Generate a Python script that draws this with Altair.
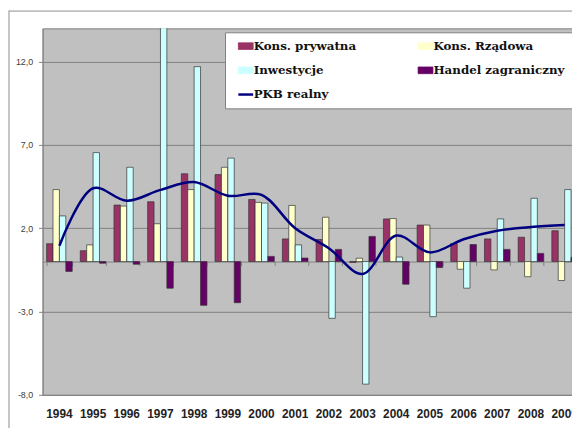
import altair as alt
import pandas as pd

# ---- data ----
years = [str(y) for y in range(1994, 2010)]
series_names = ["Kons. prywatna", "Kons. Rządowa", "Inwestycje", "Handel zagraniczny"]
line_name = "PKB realny"

kons_prywatna = [1.07, 0.65, 3.39, 3.59, 5.27, 5.22, 3.73, 1.36, 1.32, -0.05, 2.56, 2.19, 1.08, 1.36, 1.46, 1.85]
kons_rzadowa = [4.32, 1.00, 3.33, 2.27, 4.32, 5.66, 3.55, 3.37, 2.66, 0.20, 2.58, 2.19, -0.46, -0.50, -0.91, -1.14]
inwestycje = [2.74, 6.54, 5.66, 15.50, 11.70, 6.21, 3.51, 1.00, -3.41, -7.36, 0.27, -3.31, -1.60, 2.56, 3.80, 4.32]
handel = [-0.59, -0.10, -0.16, -1.60, -2.63, -2.47, 0.31, 0.21, 0.73, 1.51, -1.36, -0.36, 1.02, 0.73, 0.49, 0.25]
pkb = [0.95, 4.40, 3.65, 4.30, 4.77, 3.95, 4.00, 2.00, 0.80, -0.75, 1.56, 0.55, 1.34, 1.85, 2.07, 2.19]

series_colors = {
    "Kons. prywatna": "#993366",
    "Kons. Rządowa": "#FFFFCC",
    "Inwestycje": "#CCFFFF",
    "Handel zagraniczny": "#660066",
    "PKB realny": "#000080",
}
# legend is filled column by column: column 1 then column 2
legend_order = ["Kons. prywatna", "Inwestycje", "PKB realny", "Kons. Rządowa", "Handel zagraniczny"]
y_ticks = [-8, -3, 2, 7, 12]

rows = []
for name, vals in zip(series_names, [kons_prywatna, kons_rzadowa, inwestycje, handel]):
    for yr, v in zip(years, vals):
        rows.append({"rok": yr, "seria": name, "wartosc": v})
bars_df = pd.DataFrame(rows)
line_df = pd.DataFrame({"rok": years, "seria": [line_name] * len(years), "wartosc": pkb})
one_row = pd.DataFrame({"a": [0]})

W, H = 536, 371
x_scale = alt.Scale(domain=years, range=[0, 545.6], paddingInner=0.24, paddingOuter=0.12)
y_scale = alt.Scale(domain=[-8, 14], nice=False, zero=False)
color_scale = alt.Scale(domain=legend_order, range=[series_colors[n] for n in legend_order])

is_line = "datum.value === 'PKB realny'"
legend = alt.Legend(
    title=None, orient="none", legendX=184.7, legendY=4, columns=2,
    columnPadding=57, rowPadding=12.5, padding=8, symbolOffset=7,
    fillColor="white", strokeColor="#808080", cornerRadius=0,
    labelFont="DejaVu Serif", labelFontWeight="bold", labelFontSize=12,
    labelColor="#111111", labelOffset=2, labelLimit=300, symbolSize=225,
    symbolType=alt.ExprRef(expr=f"{is_line} ? 'stroke' : 'M-1,-0.45H1V0.45H-1Z'"),
    symbolStrokeColor=alt.ExprRef(expr=f"{is_line} ? '#000080' : '#333333'"),
    symbolStrokeWidth=alt.ExprRef(expr=f"{is_line} ? 2.5 : 0.8"),
)

label_axis = alt.Axis(
    title=None, orient="bottom", labelAngle=0, domain=False, ticks=False, grid=False,
    labelFont="Liberation Sans", labelFontSize=12, labelFontWeight="bold",
    labelColor="#222222", labelPadding=14,
)
zero_offset = -(0 - (-8)) / 22 * H
zero_axis = alt.Axis(
    title=None, orient="bottom", labels=False, grid=False, domain=True, domainColor="#808080",
    ticks=True, tickSize=4, tickColor="#808080", tickBand="extent", offset=zero_offset,
)
y_axis = alt.Axis(
    title=None, values=y_ticks, grid=True, gridColor="#808080",
    domain=True, domainColor="#808080", ticks=True, tickSize=4, tickColor="#808080",
    labelFont="Liberation Sans", labelFontSize=9, labelColor="#404040", labelPadding=6,
    labelExpr="(datum.value < 0 ? '-' : '') + replace(format(abs(datum.value), '.1f'), '.', ',')",
)

bars = alt.Chart(bars_df).mark_bar(stroke="#333333", strokeWidth=0.7, clip=True).encode(
    x=alt.X("rok:N", scale=x_scale, sort=years, axis=label_axis),
    xOffset=alt.XOffset("seria:N", sort=series_names,
                        scale=alt.Scale(domain=series_names, paddingInner=0, paddingOuter=0)),
    y=alt.Y("wartosc:Q", scale=y_scale, axis=y_axis),
    color=alt.Color("seria:N", scale=color_scale, legend=legend),
)

line = alt.Chart(line_df).mark_line(interpolate="catmull-rom", strokeWidth=2.5).encode(
    x=alt.X("rok:N", scale=x_scale, sort=years, axis=zero_axis),
    y=alt.Y("wartosc:Q", scale=y_scale, axis=y_axis),
    color=alt.Color("seria:N", scale=color_scale, legend=legend),
)

frame_v = alt.Chart(one_row).mark_rule(color="#8c8c8c", strokeWidth=1).encode(
    x=alt.value(-34), y=alt.value(-18), y2=alt.value(420))
frame_h = alt.Chart(one_row).mark_rule(color="#8c8c8c", strokeWidth=1).encode(
    x=alt.value(-34), x2=alt.value(600), y=alt.value(-17.5))

chart = (
    alt.layer(frame_v, frame_h, bars, line)
    .properties(width=W, height=H, background="white",
                autosize=alt.AutoSizeParams(type="none"),
                padding={"left": 35, "top": 18, "right": 0, "bottom": 31})
    .resolve_axis(x="independent")
    .configure_view(fill="#C0C0C0", stroke="#808080")
)

chart.save("out.html", embed_options={"renderer": "svg", "actions": False})
